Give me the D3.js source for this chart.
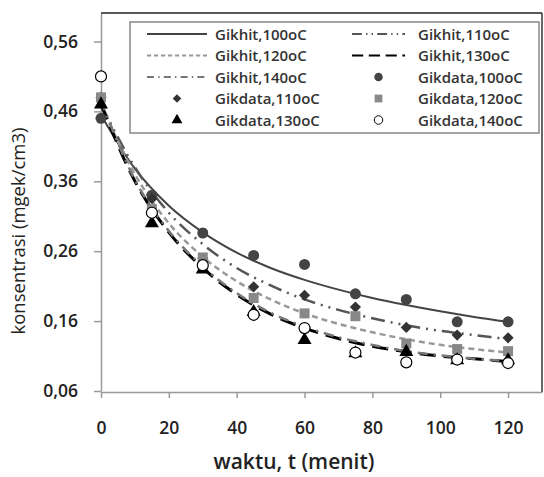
<!DOCTYPE html>
<html><head><meta charset="utf-8">
<script src="https://cdn.jsdelivr.net/npm/d3@7"></script>
<style>body{margin:0;background:#fff}svg{display:block}</style>
</head><body><svg id="c" width="544" height="477"></svg>
<script>
const tData = [0,15,30,45,60,75,90,105,120];
const data100 = [0.45,0.34,0.286,0.254,0.241,0.199,0.191,0.159,0.159];
const data110 = [0.48,0.335,0.25,0.209,0.197,0.18,0.151,0.14,0.136];
const data120 = [0.48,0.32,0.251,0.193,0.171,0.167,0.128,0.12,0.117];
const data130 = [0.47,0.30,0.234,0.173,0.133,0.114,0.116,0.104,0.104];
const data140 = [0.51,0.315,0.24,0.169,0.15,0.115,0.101,0.105,0.10];

const tFit = [0,10,20,30,40,50,60,70,80,90,100,110,120];
const fit100 = [0.455,0.378,0.325,0.287,0.258,0.236,0.219,0.205,0.193,0.183,0.174,0.166,0.159];
const fit110 = [0.47,0.38,0.315,0.27,0.236,0.211,0.191,0.176,0.164,0.154,0.146,0.14,0.134];
const fit120 = [0.47,0.37,0.30,0.252,0.217,0.191,0.171,0.156,0.144,0.134,0.126,0.12,0.115];
const fit130 = [0.47,0.36,0.287,0.236,0.198,0.17,0.15,0.135,0.124,0.116,0.11,0.106,0.102];
const fit140 = [0.475,0.362,0.289,0.238,0.2,0.172,0.152,0.137,0.126,0.117,0.111,0.106,0.103];

const xTicks = [0,20,40,60,80,100,120];
const yTicks = [0.06,0.16,0.26,0.36,0.46,0.56];

const svg = d3.select('#c');
const L=101, R=542, T=13, B=392;
const x = d3.scaleLinear().domain([0,130]).range([L,R]);
const y = d3.scaleLinear().domain([0.06,0.60]).range([B-1,T+0.5]);

svg.append('line').attr('x1',L).attr('x2',R).attr('y1',T).attr('y2',T).attr('stroke','#222').attr('stroke-width',1.5);
svg.append('line').attr('x1',R).attr('x2',R).attr('y1',T).attr('y2',B).attr('stroke','#333').attr('stroke-width',1.5);

const fmt = d => d3.format('.2f')(d).replace('.',',');
const yAx = svg.append('g').attr('transform',`translate(${L},0)`)
  .call(d3.axisLeft(y).tickValues(yTicks).tickFormat(fmt).tickSize(7).tickPadding(16).tickSizeOuter(0));
const xAx = svg.append('g').attr('transform',`translate(0,${B})`)
  .call(d3.axisBottom(x).tickValues(xTicks).tickSize(6).tickPadding(24).tickSizeOuter(0));
[yAx,xAx].forEach(g=>{
  g.select('.domain').attr('stroke','#999').attr('stroke-width',1.5);
  g.selectAll('.tick line').attr('stroke','#999').attr('stroke-width',1.5);
  g.selectAll('text').attr('font-family','"Open Sans",sans-serif').attr('font-size',17.5).attr('font-weight',600).attr('fill','#222');
});
yAx.selectAll('.tick line').attr('x2',0).attr('x1',-7);
xAx.selectAll('.tick line').attr('y1',0).attr('y2',6);

svg.append('text').attr('x',294).attr('y',469).attr('text-anchor','middle')
  .attr('font-family','"Open Sans",sans-serif').attr('font-size',21).attr('font-weight',600).attr('fill','#222')
  .text('waktu, t (menit)');
svg.append('text').attr('transform','translate(25,231) rotate(-90)').attr('text-anchor','middle')
  .attr('font-family','"Open Sans",sans-serif').attr('font-size',18.5).attr('fill','#222')
  .text('konsentrasi (mgek/cm3)');

const line = d3.line().x(d=>x(d[0])).y(d=>y(d[1])).curve(d3.curveMonotoneX);
const fits = [
  {v:fit100, c:'#444', w:2, dash:null},
  {v:fit110, c:'#555', w:2.5, dash:'14,6,2,6,2,6'},
  {v:fit120, c:'#999', w:2.5, dash:'6,4'},
  {v:fit130, c:'#000', w:3, dash:'16,8'},
  {v:fit140, c:'#777', w:2.5, dash:'10,6,2,6'}
];
fits.forEach(f=>{
  svg.append('path').attr('d',line(tFit.map((t,i)=>[t,f.v[i]])))
    .attr('fill','none').attr('stroke',f.c).attr('stroke-width',f.w)
    .attr('stroke-dasharray',f.dash);
});

const symOf = (s,k) => {
  if (s==='circle'||s==='ocircle') return d3.symbol().type(d3.symbolCircle).size(95*k)();
  if (s==='diamond') return d3.symbol().type(d3.symbolSquare).size(62*k)();
  if (s==='square') return d3.symbol().type(d3.symbolSquare).size(100*k)();
  return d3.symbol().type(d3.symbolTriangle).size(85*k)();
};
const pts = [
  {v:data100, s:'circle', fill:'#444', stroke:'none'},
  {v:data110, s:'diamond', fill:'#333', stroke:'none'},
  {v:data120, s:'square', fill:'#888', stroke:'none'},
  {v:data130, s:'triangle', fill:'#000', stroke:'none'},
  {v:data140, s:'ocircle', fill:'#fff', stroke:'#000'}
];
pts.forEach(p=>{
  svg.append('g').selectAll('path').data(tData).join('path')
    .attr('d',symOf(p.s,1)).attr('transform',(t,i)=>`translate(${x(t)},${y(p.v[i])})${p.s==='diamond'?' rotate(45)':''}`)
    .attr('fill',p.fill).attr('stroke',p.stroke).attr('stroke-width',1.2);
});

const lg = svg.append('g');
lg.append('rect').attr('x',130).attr('y',22).attr('width',409).attr('height',111)
  .attr('fill','#fff').attr('stroke','#888').attr('stroke-width',1.5);
const items = [
  {t:'Gikhit,100oC', f:0},{t:'Gikhit,110oC', f:1},
  {t:'Gikhit,120oC', f:2},{t:'Gikhit,130oC', f:3},
  {t:'Gikhit,140oC', f:4},{t:'Gikdata,100oC', p:0},
  {t:'Gikdata,110oC', p:1},{t:'Gikdata,120oC', p:2},
  {t:'Gikdata,130oC', p:3},{t:'Gikdata,140oC', p:4}
];
items.forEach((it,i)=>{
  const col=i%2, row=Math.floor(i/2);
  const cy = 34 + row*21.5;
  const lx0 = col? 352:147, lx1 = col? 405:207, tx = col? 418:215;
  if (it.f!==undefined){
    const f=fits[it.f];
    lg.append('line').attr('x1',lx0).attr('x2',lx1).attr('y1',cy).attr('y2',cy)
      .attr('stroke',f.c).attr('stroke-width',Math.min(f.w,2)).attr('stroke-dasharray',f.dash?f.dash.split(',').map(d=>d*0.7).join(','):null);
  } else {
    const p=pts[it.p];
    lg.append('path').attr('d',symOf(p.s,0.6)).attr('transform',`translate(${(lx0+lx1)/2},${cy})${p.s==='diamond'?' rotate(45)':''}`)
      .attr('fill',p.fill).attr('stroke',p.stroke).attr('stroke-width',1);
  }
  lg.append('text').attr('x',tx).attr('y',cy+5.5).attr('font-family','"Open Sans",sans-serif')
    .attr('font-size',15).attr('font-weight',600).attr('fill','#333').text(it.t);
});
</script></body></html>
